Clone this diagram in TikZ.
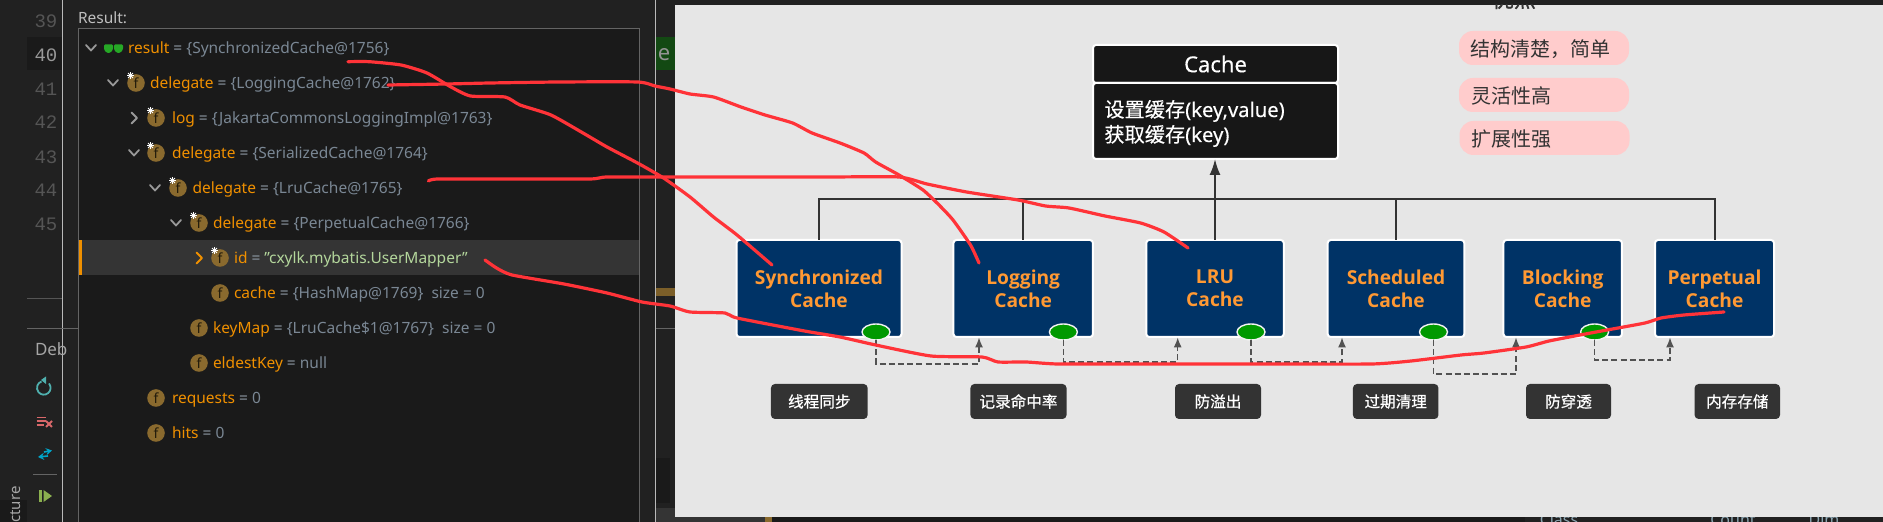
\documentclass[tikz,border=0pt]{standalone}
\usepackage{fontspec}
\setmainfont{Noto Sans}
\newfontfamily\cjk{Noto Sans CJK SC}
\newfontfamily\cjkb{Noto Sans CJK SC}[FakeBold=0.6]
\newfontfamily\cjkm{Noto Sans CJK SC}[FakeBold=0.3]
\newfontfamily\notom{Noto Sans}[FakeBold=0.3]
\newfontfamily\blkfont{Open Sans}
\newfontfamily\lnfont{Liberation Mono}
\usetikzlibrary{arrows.meta}
\usetikzlibrary{shapes.geometric}
\definecolor{idebg}{HTML}{212121}
\definecolor{treebg}{HTML}{1A1A1A}
\definecolor{rowhl}{HTML}{343434}
\definecolor{idenum}{HTML}{555555}
\definecolor{nameor}{HTML}{F09000}
\definecolor{valgray}{HTML}{7A8794}
\definecolor{strgreen}{HTML}{B4D79C}
\definecolor{fbrown}{HTML}{8A6A2E}
\definecolor{panelbg}{HTML}{E6E6E6}
\definecolor{navyblk}{HTML}{003366}
\definecolor{orangetx}{HTML}{FF9933}
\definecolor{greendot}{HTML}{009900}
\definecolor{labelbg}{HTML}{333333}
\definecolor{pinkbg}{HTML}{FFCCCC}
\definecolor{inkred}{HTML}{FF3338}
\definecolor{cachebg}{HTML}{171717}
\definecolor{tealic}{HTML}{4FB0AE}
\definecolor{cyanic}{HTML}{00A5C8}
\definecolor{redic}{HTML}{D9686A}
\definecolor{greenic}{HTML}{8BB04F}
\tikzset{
  x=0.5pt,y=-0.5pt,
  rowtext/.style={anchor=base west,inner sep=0,outer sep=0,font=\fontsize{7.75}{10}\selectfont},
  linenum/.style={inner sep=0,text=idenum,font=\lnfont\fontsize{9.5}{11}\selectfont},
  chev/.style={draw=#1,line width=0.9pt,line cap=round,line join=round},
  blockbox/.style={draw=white,line width=1pt,fill=navyblk,rounded corners=1.5pt,inner sep=0,outer sep=0,
    minimum height=48.5pt,align=center,text=orangetx,font=\blkfont\bfseries\fontsize{9.6}{11.6}\selectfont},
  greendotn/.style={ellipse,draw=panelbg!50!white,line width=0.7pt,fill=greendot,minimum width=14pt,minimum height=8pt,inner sep=0,outer sep=0},
  labelbox/.style={fill=labelbg,rounded corners=2pt,inner sep=0,outer sep=0,minimum height=17.5pt,text=white,font=\cjkb\fontsize{7.8}{10}\selectfont},
  pill/.style={fill=pinkbg,rounded corners=7pt,inner sep=0,outer sep=0,minimum height=17pt,minimum width=85pt},
  pilltext/.style={anchor=west,inner sep=0,text=labelbg,font=\cjk\fontsize{10}{12}\selectfont},
  treeline/.style={draw=labelbg,line width=1pt},
  dashline/.style={draw=labelbg!85,line width=0.6pt,dash pattern=on 3pt off 1.6pt,-{Latex[length=5pt,width=4pt]}},
  inkstroke/.style={draw=inkred,line width=1.6pt,line cap=round,line join=round},
  cachebox/.style={draw=white,line width=1pt,fill=cachebg,rounded corners=1.5pt,inner sep=0,outer sep=0,minimum width=122.5pt},
  cachetext/.style={anchor=base west,inner sep=0,text=white,font=\notom\fontsize{10.1}{12}\selectfont},
}
\begin{document}
\begin{tikzpicture}
\useasboundingbox (0,0) rectangle (1883,522);
\fill[idebg] (0,0) rectangle (1883,522);
% --- IDE chrome ---
\fill[treebg] (0,500) rectangle (27,522);
\fill[treebg] (78,28) rectangle (639,522);
\draw[idebg!70!white,line width=0.4pt] (78,28) -- (639,28) -- (639,522);
\draw[idebg!70!white,line width=0.4pt] (78,28) -- (78,522);
\draw[gray!55,line width=0.5pt] (62,0) -- (62,522);
\draw[gray!55,line width=0.5pt] (655,0) -- (655,522);
\fill[treebg] (27,37) rectangle (62,70);
\draw[idenum,line width=0.4pt] (27,298) -- (62,298);
\draw[idebg!70!white,line width=0.4pt] (27,328) -- (78,328);
\draw[idebg!70!white,line width=0.4pt] (656,328) -- (675,328);
\fill[green!25!black!85!gray] (656,37) rectangle (675,70);
\node[inner sep=0,text=gray!85!white,font=\fontsize{11}{12}\selectfont] (ide) at (664,55) {e};
\fill[fbrown!90!black] (656,288) rectangle (675,296);
\fill[treebg] (656,458) rectangle (670,503);
\fill[rowhl] (656,508) rectangle (675,522);
% gutter numbers
\foreach \n/\yy in {39/21,41/89,42/122,43/157,44/190,45/224}
  \node[linenum] (ln\n) at (46,\yy) {\n};
\node[linenum,text=gray!80!white] (ln40) at (46,55) {40};
% --- tree ---
\node[rowtext,text=white!75!black] (reslabel) at (78,24) {Result:};
\fill[rowhl] (79,240) rectangle (639,275);
\fill[nameor] (79,240) rectangle (82,275);
% rows
\newcommand{\rowt}[6]{\node[rowtext] (#1) at (#2,#3+5.5) {\textcolor{nameor}{#4}\textcolor{valgray!85!white}{\ =\ }\textcolor{#6}{#5}};}
\newcommand{\ficon}[3]{%
  \fill[fbrown] (#1,#2) circle[radius=4.4pt];
  \node[inner sep=0,text=black!75!fbrown,font=\fontsize{7}{8}\selectfont] (f#1x#2) at (#1,#2) {f};
  \ifnum#3=1
    \foreach \a in {0,45,90,135}{
      \draw[white,line width=0.5pt] ({#1-5.5+3.5*cos(\a)},{#2-7.5+3.5*sin(\a)}) -- ({#1-5.5-3.5*cos(\a)},{#2-7.5-3.5*sin(\a)});
    }
  \fi}
\newcommand{\chevd}[2]{\draw[chev=gray!80!white] (#1-5,#2-3) -- (#1,#2+2.5) -- (#1+5,#2-3);}
\newcommand{\chevr}[3]{\draw[chev=#3] (#1-2.5,#2-5.5) -- (#1+3,#2) -- (#1-2.5,#2+5.5);}
% glasses
\fill[green!60!black!85!white,rounded corners=0.6pt] (104,44.5) -- (113,44.5) -- (113,49.5) -- (110.5,52.8) -- (106.5,52.8) -- (104,49.5) -- cycle;
\fill[green!60!black!85!white,rounded corners=0.6pt] (114,44.5) -- (123,44.5) -- (123,49.5) -- (120.5,52.8) -- (116.5,52.8) -- (114,49.5) -- cycle;
\chevd{91}{48}
\rowt{r1}{128}{48}{result}{\{SynchronizedCache@1756\}}{valgray}
\chevd{113}{83}\ficon{136}{83}{1}
\rowt{r2}{150}{83}{delegate}{\{LoggingCache@1762\}}{valgray}
\chevr{134}{118}{gray!80!white}\ficon{156}{118}{1}
\rowt{r3}{172}{118}{log}{\{JakartaCommonsLoggingImpl@1763\}}{valgray}
\chevd{134}{153}\ficon{156}{153}{1}
\rowt{r4}{172}{153}{delegate}{\{SerializedCache@1764\}}{valgray}
\chevd{155}{188}\ficon{178}{188}{1}
\rowt{r5}{192.5}{188}{delegate}{\{LruCache@1765\}}{valgray}
\chevd{176}{223}\ficon{199}{223}{1}
\rowt{r6}{213}{223}{delegate}{\{PerpetualCache@1766\}}{valgray}
\chevr{199}{258}{nameor}\ficon{220}{258}{1}
\rowt{r7}{234}{258}{id}{"cxylk.mybatis.UserMapper"}{strgreen}
\ficon{220}{293}{0}
\rowt{r8}{234}{293}{cache}{\{HashMap@1769\}\ \ size = 0}{valgray}
\ficon{199}{328}{0}
\rowt{r9}{213}{328}{keyMap}{\{LruCache\$1@1767\}\ \ size = 0}{valgray}
\ficon{199}{363}{0}
\rowt{r10}{213}{363}{eldestKey}{null}{valgray}
\ficon{156}{398}{0}
\rowt{r11}{172}{398}{requests}{0}{valgray}
\ficon{156}{433}{0}
\rowt{r12}{172}{433}{hits}{0}{valgray}
% side toolbar
\node[rowtext,text=white!65!black,font=\fontsize{8.5}{10}\selectfont] (deb) at (35,356) {Deb};
\draw[tealic,line width=0.9pt] (49,383.5) arc[start angle=40,end angle=-250,radius=3.4pt];
\fill[tealic] (41,380) -- (46,384) -- (46,376.5) -- cycle;
\draw[redic,line width=0.7pt] (36.5,417.5) -- (46,417.5) (36.5,421) -- (46,421) (36.5,425) -- (44,425);
\draw[redic,line width=0.9pt] (46,421) -- (52,427) (52,421) -- (46,427);
\draw[cyanic,line width=0.8pt,-{Stealth[length=3pt,width=3.5pt]}] (44,452) -- (52,450.5);
\draw[cyanic,line width=0.8pt,-{Stealth[length=3pt,width=3.5pt]}] (48,456) -- (38,457);
\draw[idebg!70!white,line width=0.4pt] (33,474) -- (57,474);
\fill[greenic] (39,490) rectangle (42,502);
\fill[greenic] (43.5,490) -- (52,496) -- (43.5,502) -- cycle;
\node[rotate=90,anchor=east,inner sep=0,text=white!65!black,font=\fontsize{7.5}{9}\selectfont] (struct) at (16,486) {ucture};
% --- bottom strip under the panel ---
\fill[treebg] (675,514) rectangle (1883,522);
\fill[rowhl] (660,514) rectangle (765,522);
\fill[fbrown] (765,514) rectangle (772,522);
\fill[idebg] (1525,514) rectangle (1883,522);
\foreach \tx/\xx in {Class/1559,Count/1733,Dim/1824}
  \node[inner sep=0,text=cyan!25!gray!90!white,font=\fontsize{8}{9}\selectfont] (st\tx) at (\xx,520) {\tx};
% --- panel ---
\fill[panelbg] (675,5) rectangle (1883,517);
\begin{scope}
  \clip (675,5) rectangle (1883,517);
  \node[inner sep=0,text=labelbg,font=\cjkb\fontsize{11}{12}\selectfont] (topt) at (1514,-1) {优点};
\end{scope}
% Cache class box
\node[cachebox,minimum height=19pt,text=white,font=\notom\fontsize{11}{12}\selectfont] (cachetitle) at (1215.5,64) {Cache};
\node[cachebox,minimum height=38pt] (cachebody) at (1215.5,121) {};
\node[cachetext] (cb1) at (1104,117) {{\cjkm 设置缓存}(key,value)};
\node[cachetext] (cb2) at (1104,142) {{\cjkm 获取缓存}(key)};
% pills
\node[pill] (p1) at (1544,48) {};
\node[pill] (p2) at (1544,95) {};
\node[pill] (p3) at (1544.5,138) {};
\node[pilltext] (pt1) at (1470,49) {结构清楚，简单};
\node[pilltext] (pt2) at (1471,96) {灵活性高};
\node[pilltext] (pt3) at (1471,139) {扩展性强};
% implementation blocks
\node[blockbox,minimum width=82.5pt] (b1) at (819,288.5) {Synchronized\\Cache};
\node[blockbox,minimum width=69.75pt] (b2) at (1023.2,288.5) {Logging\\Cache};
\node[blockbox,minimum width=68.75pt] (b3) at (1215,288.5) {LRU\\Cache};
\node[blockbox,minimum width=68.3pt] (b4) at (1396,288.5) {Scheduled\\Cache};
\node[blockbox,minimum width=59.25pt] (b5) at (1562.7,288.5) {Blocking\\Cache};
\node[blockbox,minimum width=59.5pt] (b6) at (1714.5,288.5) {Perpetual\\Cache};
% green dots
\node[greendotn] (e1) at (876,332) {};
\node[greendotn] (e2) at (1063.4,332) {};
\node[greendotn] (e3) at (1251,332) {};
\node[greendotn] (e4) at (1433.5,332) {};
\node[greendotn] (e5) at (1594.6,332) {};
% inheritance tree
\coordinate (bar) at (1215,199.5);
\draw[treeline] (b1.north) |- (bar) -| (b6.north);
\draw[treeline] (b2.north) -- (b2.north |- bar);
\draw[treeline] (b4.north) -- (b4.north |- bar);
\draw[treeline,-{Latex[length=8pt,width=5.5pt]}] (b3.north) -- (b3.north |- cachebody.south);
% dashed decorations
\coordinate (t1) at (979,337.5); \coordinate (k1) at (979,364);
\coordinate (t2) at (1177.7,337.5); \coordinate (k2) at (1177.7,362);
\coordinate (t3) at (1342,337.5); \coordinate (k3) at (1342,362);
\coordinate (t4) at (1516,337.5); \coordinate (k4) at (1516,374);
\coordinate (t5) at (1670,337.5); \coordinate (k5) at (1670,360);
\draw[dashline] (e1.south) |- (k1) -- (t1);
\draw[dashline] (e2.south) |- (k2) -- (t2);
\draw[dashline] (e3.south) |- (k3) -- (t3);
\draw[dashline] (e4.south) |- (k4) -- (t4);
\draw[dashline] (e5.south) |- (k5) -- (t5);
% labels
\node[labelbox,minimum width=48.35pt] (l1) at (819.3,401.5) {线程同步};
\node[labelbox,minimum width=48.05pt] (l2) at (1018.5,401.5) {记录命中率};
\node[labelbox,minimum width=43pt] (l3) at (1218,401.5) {防溢出};
\node[labelbox,minimum width=42.75pt] (l4) at (1395.7,401.5) {过期清理};
\node[labelbox,minimum width=42.5pt] (l5) at (1568.5,401.5) {防穿透};
\node[labelbox,minimum width=42.7pt] (l6) at (1737.3,401.5) {内存存储};
% red ink strokes
\draw[inkstroke] plot[smooth,tension=0.35] coordinates {(348,61.7)(369,61.7)(401,65)(427,73)(451,87)(470.5,96)(505,97)(520,105)(551,115)(583,133)(607,147)(637.5,163)(663.5,178)(690,197)(713.5,217)(737,235)(772,265)};
\draw[inkstroke] plot[smooth,tension=0.35] coordinates {(388,85)(447,84)(490,83)(559,82)(637.5,82)(655,86)(670,89)(690,94)(713.5,97)(741,107)(765,115)(792.6,123)(812,133)(840,143)(864,153)(875.6,162)(899,175)(923,190)(939,205)(953,220)(970.5,245)(979,263)};
\draw[inkstroke] plot[smooth,tension=0.35] coordinates {(428.4,181)(438,179)(510,179)(590,179)(607,177)(670,177)(750,177)(830,177)(899,177)(927,184)(966.6,192)(1018,200)(1045.6,206)(1069,208)(1105,216)(1140.6,223)(1164,232)(1188,248)};
\draw[inkstroke] plot[smooth,tension=0.35] coordinates {(485,260)(496.5,268)(512,275)(564,284)(607,293)(642,302)(670,306)(690,312)(725,313)(737,318)(804.4,331)(840,337)(875.6,345)(931,356)(982,357)(998,362)(1026,362)(1057.5,364)(1130,364)(1205,364)(1280,364)(1372,364)(1411,361)(1461,355)(1484,353)(1526,347)(1549,341)(1580,335)(1607,330)(1645,323)(1661,318)(1684,315)(1724,312)};
\end{tikzpicture}
\end{document}
